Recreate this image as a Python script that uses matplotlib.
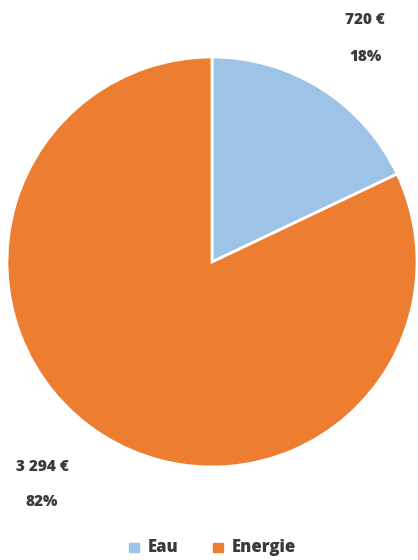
import matplotlib
matplotlib.use("Agg")
import matplotlib.pyplot as plt
from matplotlib.patches import Rectangle

categories = ["Eau", "Energie"]
values = [720, 3294]
value_labels = ["720 €", "3 294 €"]
pct_labels = ["18%", "82%"]
colors = ["#9DC3E6", "#ED7D31"]

W, H = 418, 560
fig = plt.figure(figsize=(W/100, H/100), dpi=100)
plt.rcParams['font.family'] = ['Open Sans', 'DejaVu Sans']

cx, cy, r = 212, 262, 205
ax = fig.add_axes([(cx - r)/W, 1 - (cy + r)/H, 2*r/W, 2*r/H])
ax.pie(values, colors=colors, startangle=90, counterclock=False,
       wedgeprops=dict(edgecolor="white", linewidth=2))
ax.set_xlim(-1, 1)
ax.set_ylim(-1, 1)
ax.set_aspect("equal")
ax.axis("off")

tc = "#3A3A3A"
kw = dict(ha="center", va="center", fontsize=11, fontweight="heavy", color=tc)
fig.text(365/W, 1 - 20/H, value_labels[0], **kw)
fig.text(366/W, 1 - 57/H, pct_labels[0], **kw)
fig.text(42/W, 1 - 467/H, value_labels[1], **kw)
fig.text(42/W, 1 - 502/H, pct_labels[1], **kw)

# legend
ly = 547
for x0, lab, c in [(129, categories[0], colors[0]), (213, categories[1], colors[1])]:
    fig.patches.append(Rectangle((x0/W, 1 - (ly + 5)/H), 10/W, 9/H, transform=fig.transFigure, color=c))
    fig.text((x0 + 19)/W, 1 - ly/H, lab, ha="left", va="center", fontsize=12, fontweight="heavy", color=tc)

fig.savefig("out.png", dpi=100)
